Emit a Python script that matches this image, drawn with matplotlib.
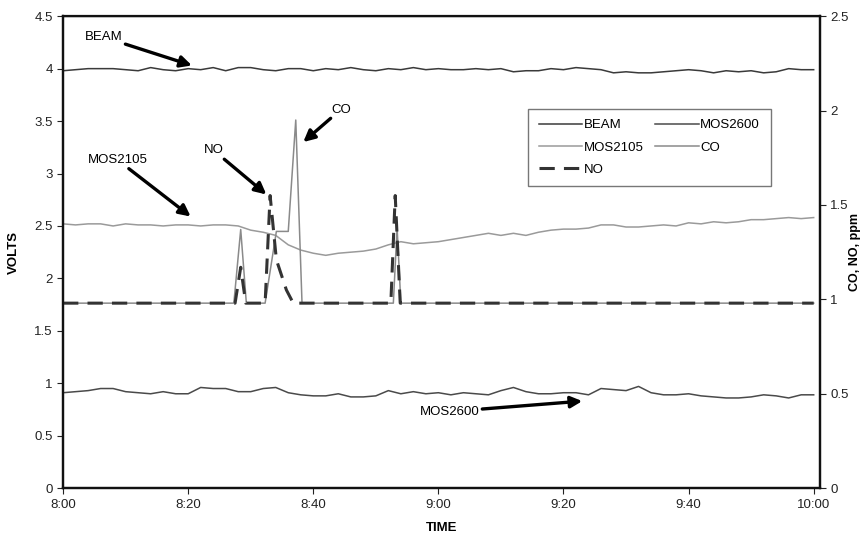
import matplotlib.pyplot as plt
from matplotlib.ticker import FuncFormatter, MultipleLocator

plt.rcParams["font.family"] = ["Liberation Sans", "DejaVu Sans"]

# minutes after 8:00, sensor channels sampled every 2 min
t_sens = list(range(0, 121, 2))
beam = [3.98, 3.99, 4.00, 4.00, 4.00, 3.99, 3.98, 4.01, 3.99, 3.98, 4.00,
        3.99, 4.01, 3.98, 4.01, 4.01, 3.99, 3.98, 4.00, 4.00, 3.98, 4.00,
        3.99, 4.01, 3.99, 3.98, 4.00, 3.99, 4.01, 3.99, 4.00, 3.99, 3.99,
        4.00, 3.99, 4.00, 3.97, 3.98, 3.98, 4.00, 3.99, 4.01, 4.00, 3.99,
        3.96, 3.97, 3.96, 3.96, 3.97, 3.98, 3.99, 3.98, 3.96, 3.98, 3.97,
        3.98, 3.96, 3.97, 4.00, 3.99, 3.99]
mos2105 = [2.52, 2.51, 2.52, 2.52, 2.50, 2.52, 2.51, 2.51, 2.50, 2.51, 2.51,
           2.50, 2.51, 2.51, 2.50, 2.46, 2.44, 2.41, 2.32, 2.27, 2.24, 2.22,
           2.24, 2.25, 2.26, 2.28, 2.32, 2.35, 2.33, 2.34, 2.35, 2.37, 2.39,
           2.41, 2.43, 2.41, 2.43, 2.41, 2.44, 2.46, 2.47, 2.47, 2.48, 2.51,
           2.51, 2.49, 2.49, 2.50, 2.51, 2.50, 2.53, 2.52, 2.54, 2.53, 2.54,
           2.56, 2.56, 2.57, 2.58, 2.57, 2.58]
mos2600 = [0.91, 0.92, 0.93, 0.95, 0.95, 0.92, 0.91, 0.90, 0.92, 0.90, 0.90,
           0.96, 0.95, 0.95, 0.92, 0.92, 0.95, 0.96, 0.91, 0.89, 0.88, 0.88,
           0.90, 0.87, 0.87, 0.88, 0.93, 0.90, 0.92, 0.90, 0.91, 0.89, 0.91,
           0.90, 0.89, 0.93, 0.96, 0.92, 0.90, 0.90, 0.91, 0.91, 0.89, 0.95,
           0.94, 0.93, 0.97, 0.91, 0.89, 0.89, 0.90, 0.88, 0.87, 0.86, 0.86,
           0.87, 0.89, 0.88, 0.86, 0.89, 0.89]

# gas analyser (ppm), logged only where it changes
co_t = [0, 27.3, 28.4, 29.3, 32.3, 34.1, 36.0, 37.2, 38.2, 52.8, 53.4, 54.0, 120]
co_v = [0.98, 0.98, 1.37, 0.98, 0.98, 1.36, 1.36, 1.95, 0.98, 0.98, 1.38, 0.98, 0.98]
no_t = [0, 27.5, 28.4, 29.2, 32.3, 33.1, 34.1, 35.7, 36.8, 52.4, 53.1, 53.9, 120]
no_v = [0.98, 0.98, 1.17, 0.98, 0.98, 1.55, 1.21, 1.05, 0.98, 0.98, 1.55, 0.98, 0.98]

FS = 9.5

fig = plt.figure(figsize=(8.64, 5.4), dpi=100)
ax = fig.add_axes([0.073, 0.096, 0.876, 0.874])
ax2 = ax.twinx()

h_beam, = ax.plot(t_sens, beam, color="#3a3a3a", lw=1.1, label="BEAM")
h_2105, = ax.plot(t_sens, mos2105, color="#9a9a9a", lw=1.1, label="MOS2105")
h_2600, = ax.plot(t_sens, mos2600, color="#4a4a4a", lw=1.1, label="MOS2600")
h_co, = ax2.plot(co_t, co_v, color="#8a8a8a", lw=1.1, label="CO")
h_no, = ax2.plot(no_t, no_v, color="#333333", lw=2.2, ls=(0, (5, 3)), label="NO")

ax.set_xlim(0, 121)
ax.set_ylim(0, 4.5)
ax2.set_ylim(0, 2.5)
ax.xaxis.set_major_locator(MultipleLocator(20))
ax.xaxis.set_major_formatter(FuncFormatter(lambda v, p: f"{8 + int(v) // 60}:{int(v) % 60:02d}"))
ax.yaxis.set_major_locator(MultipleLocator(0.5))
ax2.yaxis.set_major_locator(MultipleLocator(0.5))
fmt = FuncFormatter(lambda v, p: f"{v:g}")
ax.yaxis.set_major_formatter(fmt)
ax2.yaxis.set_major_formatter(fmt)

for a in (ax, ax2):
    a.tick_params(direction="out", length=4, width=0.8, labelsize=FS, colors="#222222")
    for s in a.spines.values():
        s.set_linewidth(1.6)
        s.set_color("#111111")
ax.spines["top"].set_linewidth(1.0)

ax.set_ylabel("VOLTS", fontsize=FS, fontweight="bold", labelpad=10)
ax.set_xlabel("TIME", fontsize=FS, fontweight="bold", labelpad=8)
ax2.set_ylabel("CO, NO, ppm", fontsize=9, fontweight="bold")
ax2.yaxis.set_label_coords(1.038, 0.5)

arrow = dict(arrowstyle="-|>", color="black", lw=2.4, mutation_scale=17, shrinkA=0, shrinkB=0)
ax.annotate("BEAM", xy=(20.6, 4.03), xytext=(6.5, 4.30), fontsize=FS,
            ha="center", va="center", arrowprops=arrow)
ax.annotate("MOS2105", xy=(20.4, 2.59), xytext=(8.7, 3.13), fontsize=FS,
            ha="center", va="center", arrowprops=arrow)
ax.annotate("NO", xy=(32.5, 2.80), xytext=(24.1, 3.22), fontsize=FS,
            ha="center", va="center", arrowprops=arrow)
ax.annotate("CO", xy=(38.4, 3.30), xytext=(44.4, 3.61), fontsize=FS,
            ha="center", va="center", arrowprops=arrow)
ax.annotate("MOS2600", xy=(83.0, 0.83), xytext=(61.8, 0.73), fontsize=FS,
            ha="center", va="center", arrowprops=arrow)

leg = ax.legend([h_beam, h_2105, h_no, h_2600, h_co],
                ["BEAM", "MOS2105", "NO", "MOS2600", "CO"],
                ncol=2, loc="upper left", bbox_to_anchor=(0.606, 0.818),
                fontsize=FS, handlelength=3.3, handletextpad=0.1,
                columnspacing=0.9, labelspacing=0.75, borderpad=0.8,
                fancybox=False, framealpha=1, edgecolor="#777777")
leg.get_frame().set_linewidth(1.0)

fig.savefig("out.png", dpi=100)
